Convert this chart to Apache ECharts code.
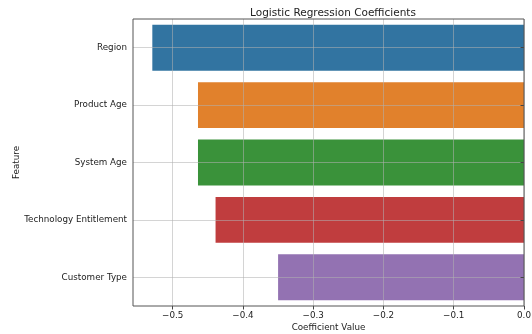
<!DOCTYPE html>
<html><head><meta charset="utf-8">
<script src="https://cdn.jsdelivr.net/npm/echarts@6/dist/echarts.min.js"></script>
<style>html,body{margin:0;padding:0;background:#fff}#c{width:532px;height:334px}</style>
</head><body><div id="c"></div>
<script>
const categories = ['Region', 'Product Age', 'System Age', 'Technology Entitlement', 'Customer Type'];
const values = [-0.529, -0.464, -0.464, -0.439, -0.350];
const colors = ['#3274a1', '#e1812c', '#3a923a', '#c03d3e', '#9372b2'];
const xTicks = [-0.5, -0.4, -0.3, -0.2, -0.1, 0.0];

const font = 'DejaVu Sans';
const chart = echarts.init(document.getElementById('c'), null, {renderer: 'canvas'});
chart.setOption({
  animation: false,
  title: {text: 'Logistic Regression Coefficients', left: 328, top: 3, textAlign: 'center',
    textStyle: {fontFamily: font, fontSize: 10.5, fontWeight: 'normal', color: '#222'}},
  grid: {left: 133, right: 8, top: 19, bottom: 28, show: true, borderColor: '#555', borderWidth: 1,
    backgroundColor: 'transparent', z: 4, containLabel: false, outerBoundsMode: 'none'},
  xAxis: {
    type: 'value', min: -0.5565, max: 0, z: 3,
    name: 'Coefficient Value', nameLocation: 'middle', nameGap: 17.5, nameMoveOverlap: false,
    nameTextStyle: {fontFamily: font, fontSize: 8.75, color: '#222'},
    axisLine: {show: false},
    axisTick: {show: true, length: 3.5, lineStyle: {color: '#444'},
      customValues: xTicks},
    axisLabel: {fontFamily: font, fontSize: 8.75, color: '#222', margin: 5,
      customValues: xTicks,
      formatter: v => (v < 0 ? '\u2212' : '') + Math.abs(v).toFixed(1)},
    splitLine: {show: true, lineStyle: {color: 'rgba(176,176,176,0.55)', width: 1}}
  },
  yAxis: {
    type: 'category', data: categories, inverse: true, z: 3,
    name: 'Feature', nameLocation: 'middle', nameGap: 112, nameRotate: 90, nameMoveOverlap: false,
    nameTextStyle: {fontFamily: font, fontSize: 8.75, color: '#222'},
    axisLine: {show: false},
    axisTick: {show: true, alignWithLabel: true, length: 3.5, lineStyle: {color: '#444'}},
    axisLabel: {fontFamily: font, fontSize: 8.75, color: '#222', margin: 6},
    splitLine: {show: true, alignWithLabel: true, lineStyle: {color: 'rgba(176,176,176,0.55)', width: 1}}
  },
  series: [{
    type: 'bar', barWidth: '80%', z: 2,
    data: values.map((v, i) => ({value: v, itemStyle: {color: colors[i]}}))
  }]
});
</script></body></html>
